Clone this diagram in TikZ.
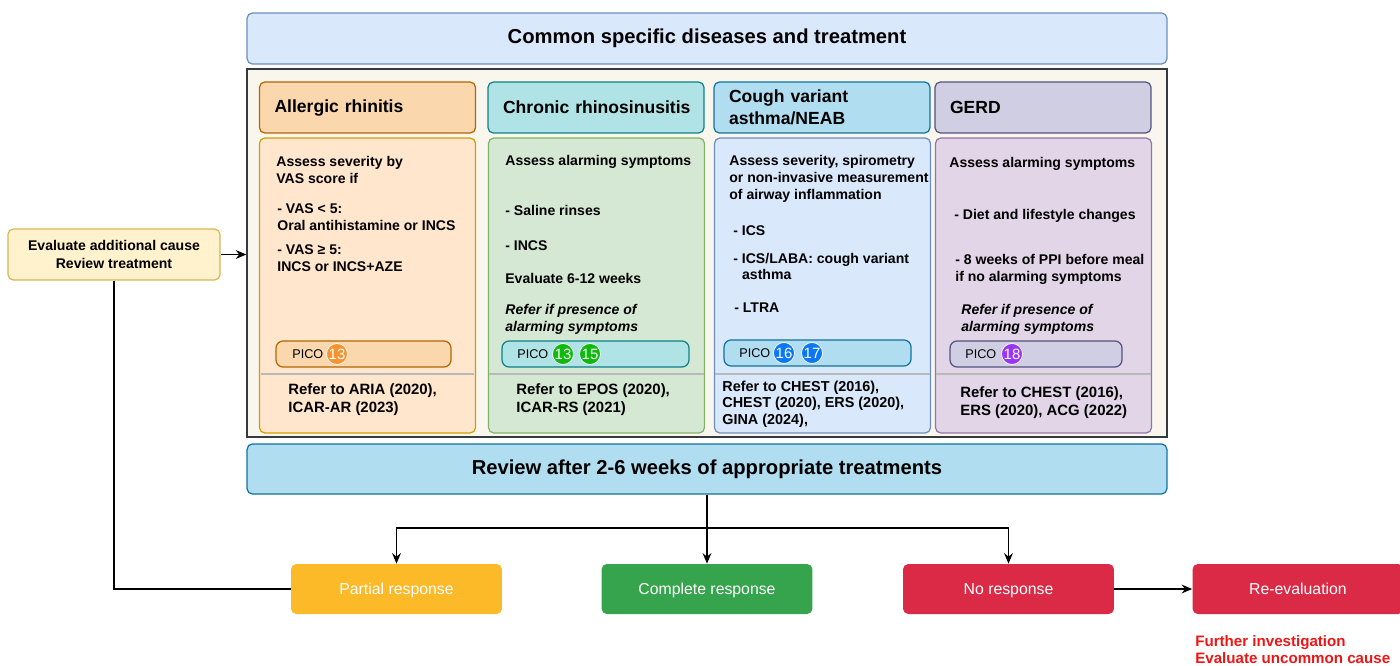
\documentclass[tikz,border=0pt]{standalone}
\usepackage{fontspec}
\setmainfont{Liberation Sans}
\usetikzlibrary{arrows.meta}
\definecolor{arhead}{HTML}{FAD7AC}
\definecolor{arheadline}{HTML}{B46504}
\definecolor{arbody}{HTML}{FFE6CC}
\definecolor{arline}{HTML}{D79B00}
\definecolor{crshead}{HTML}{B0E3E6}
\definecolor{crsheadline}{HTML}{0E8088}
\definecolor{crsbody}{HTML}{D5E8D4}
\definecolor{crsline}{HTML}{82B366}
\definecolor{cvahead}{HTML}{B1DDF0}
\definecolor{cvaheadline}{HTML}{10739E}
\definecolor{cvabody}{HTML}{DAE8FC}
\definecolor{cvaline}{HTML}{6C8EBF}
\definecolor{gerdhead}{HTML}{D0CEE2}
\definecolor{gerdheadline}{HTML}{56517E}
\definecolor{gerdbody}{HTML}{E1D5E7}
\definecolor{gerdline}{HTML}{9673A6}
\definecolor{evalfill}{HTML}{FFF2CC}
\definecolor{evalline}{HTML}{D6B656}
\definecolor{framefill}{HTML}{F9F7ED}
\definecolor{frameline}{HTML}{36393D}
\definecolor{partialfill}{HTML}{FCB928}
\definecolor{completefill}{HTML}{35A44C}
\definecolor{nofill}{HTML}{DB2A45}
\definecolor{picoorange}{HTML}{F7932F}
\definecolor{picogreen}{HTML}{0DBB0D}
\definecolor{picoblue}{HTML}{0A78F5}
\definecolor{picopurple}{HTML}{9A35F5}
\definecolor{alertred}{HTML}{F01515}
\tikzstyle{arrow} = [-{Stealth[length=6pt,width=5pt,inset=2pt]},line width=0.8pt]
\tikzstyle{link} = [line width=0.8pt]
\tikzstyle{box} = [draw,rounded corners=3pt,line width=0.7pt,inner sep=0pt]
\tikzstyle{head} = [box,minimum width=4.32cm,minimum height=1.02cm,text width=3.72cm,inner xsep=0.3cm,align=left,font=\fontsize{10}{12.5}\selectfont\bfseries]
\tikzstyle{body} = [box,minimum width=4.32cm,minimum height=5.9cm]
\tikzstyle{txt} = [anchor=west,inner sep=0pt,align=left,font=\fontsize{8}{9.6}\selectfont\bfseries]
\tikzstyle{ref} = [anchor=west,inner sep=0pt,align=left,font=\fontsize{8.5}{10.2}\selectfont\bfseries]
\tikzstyle{picobox} = [box,rounded corners=4pt,minimum width=3.5cm,minimum height=0.52cm]
\tikzstyle{picotxt} = [anchor=west,inner sep=0pt,font=\fontsize{7.2}{8}\selectfont]
\tikzstyle{pico} = [circle,draw=white,line width=0.4pt,minimum size=0.42cm,inner sep=0pt,text=white,font=\fontsize{8.5}{9}\selectfont]
\tikzstyle{resp} = [rounded corners=3pt,minimum width=4.22cm,minimum height=1cm,text height=1.6ex,text depth=0.4ex,text=white,font=\fontsize{9}{11}\selectfont]
\tikzstyle{sep} = [gray!55,line width=0.7pt]

\begin{document}
\begin{tikzpicture}[x=0.02cm,y=-0.02cm]
        \useasboundingbox (0,0) rectangle (1400,666);
        \node[box, fill=cvabody, draw=cvaline, minimum width=18.4cm, minimum height=1.02cm, font=\fontsize{11.5}{13}\selectfont\bfseries] at (707,38.5) (title) {Common specific diseases and treatment};
        \node[draw=frameline, fill=framefill, line width=0.9pt, minimum width=18.4cm, minimum height=7.36cm, inner sep=0pt] at (707,253) (frame) {};

        \node[head, fill=arhead, draw=arheadline] at (367.5,107.5) (ar) {Allergic rhinitis};
        \node[head, fill=crshead, draw=crsheadline] at (596,107.5) (crs) {\mbox{Chronic rhinosinusitis}};
        \node[head, fill=cvahead, draw=cvaheadline] at (822,107.5) (cva) {Cough variant\\asthma/NEAB};
        \node[head, fill=gerdhead, draw=gerdheadline] at (1043,107.5) (gerd) {GERD};

        \node[body, fill=arbody, draw=arline] at (367.5,285.5) (ar-body) {};
        \node[body, fill=crsbody, draw=crsline] at (596.5,285.5) (crs-body) {};
        \node[body, fill=cvabody, draw=cvaline] at (822.5,285.5) (cva-body) {};
        \node[body, fill=gerdbody, draw=gerdline] at (1043.5,285.5) (gerd-body) {};
        \draw[sep] (261,374) -- (474,374);
        \draw[sep] (489,374) -- (704,374);
        \draw[sep] (715,374) -- (930,374);
        \draw[sep] (936,374) -- (1151,374);

        \node[txt] at (276,170) (ar-t1) {Assess severity by\\VAS score if};
        \node[txt] at (277,217.5) (ar-t2) {- VAS < 5:\\Oral antihistamine or INCS};
        \node[txt] at (277,258.5) (ar-t3) {- VAS ≥ 5:\\INCS or INCS+AZE};
        \node[picobox, fill=arhead, draw=arheadline] at (363.5,354) (ar-pico) {};
        \node[picotxt] at (292,354) (ar-pico-t) {PICO};
        \node[pico, fill=picoorange] at (337,354) (ar-p13) {13};
        \node[ref] at (288,400) (ar-ref) {Refer to ARIA (2020),\\ICAR-AR (2023)};

        \node[txt] at (505,162) (crs-t1) {Assess alarming symptoms};
        \node[txt] at (505,210) (crs-t2) {- Saline rinses};
        \node[txt] at (505,246) (crs-t3) {- INCS};
        \node[txt] at (505,278) (crs-t4) {Evaluate 6-12 weeks};
        \node[txt, font=\fontsize{8}{9.6}\selectfont\bfseries\itshape] at (505,319.5) (crs-t5) {Refer if presence of\\alarming symptoms};
        \node[picobox, fill=crshead, draw=crsheadline, minimum width=3.74cm] at (595.5,354) (crs-pico) {};
        \node[picotxt] at (517,354) (crs-pico-t) {PICO};
        \node[pico, fill=picogreen] at (563,354) (crs-p13) {13};
        \node[pico, fill=picogreen] at (590,354) (crs-p15) {15};
        \node[ref] at (516,400) (crs-ref) {Refer to EPOS (2020),\\ICAR-RS (2021)};

        \node[txt] at (729,179) (cva-t1) {Assess severity, spirometry\\or non-invasive measurement\\of airway inflammation};
        \node[txt] at (733,231) (cva-t2) {- ICS};
        \node[txt] at (733,266.5) (cva-t3) {- ICS/LABA: cough variant\\\hspace*{5pt}asthma};
        \node[txt] at (734,308) (cva-t4) {- LTRA};
        \node[picobox, fill=cvahead, draw=cvaheadline, minimum width=3.74cm] at (817.5,353) (cva-pico) {};
        \node[picotxt] at (739,353) (cva-pico-t) {PICO};
        \node[pico, fill=picoblue] at (784,353) (cva-p16) {16};
        \node[pico, fill=picoblue] at (812,353) (cva-p17) {17};
        \node[ref, font=\fontsize{8.2}{9.5}\selectfont\bfseries] at (722,404) (cva-ref) {Refer to CHEST (2016),\\CHEST (2020), ERS (2020),\\GINA (2024),};

        \node[txt] at (949,164) (gerd-t1) {Assess alarming symptoms};
        \node[txt] at (954,216) (gerd-t2) {- Diet and lifestyle changes};
        \node[txt] at (955,269) (gerd-t3) {- 8 weeks of PPI before meal\\if no alarming symptoms};
        \node[txt, font=\fontsize{8}{9.6}\selectfont\bfseries\itshape] at (961,319.5) (gerd-t4) {Refer if presence of\\alarming symptoms};
        \node[picobox, fill=gerdhead, draw=gerdheadline, minimum width=3.44cm] at (1036,354) (gerd-pico) {};
        \node[picotxt] at (965,354) (gerd-pico-t) {PICO};
        \node[pico, fill=picopurple] at (1012,354) (gerd-p18) {18};
        \node[ref] at (960,402.5) (gerd-ref) {Refer to CHEST (2016),\\ERS (2020), ACG (2022)};

        \node[box, fill=cvahead, draw=cvaheadline, minimum width=18.4cm, minimum height=1cm, font=\fontsize{11.5}{13}\selectfont\bfseries] at (707,469) (review) {Review after 2-6 weeks of appropriate treatments};
        \node[box, fill=evalfill, draw=evalline, minimum width=4.24cm, minimum height=1.02cm, align=center, font=\fontsize{8}{10}\selectfont\bfseries] at (114,254.5) (evaluate) {Evaluate additional cause\\Review treatment};

        \node[resp, fill=partialfill] at (396.5,589) (partial) {Partial response};
        \node[resp, fill=completefill] at (707,589) (complete) {Complete response};
        \node[resp, fill=nofill] at (1008.5,589) (noresp) {No response};
        \node[resp, fill=nofill] at (1298,589) (reeval) {Re-evaluation};
        \node[anchor=west, inner sep=0pt, align=left, text=alertred, font=\fontsize{8.6}{9.8}\selectfont\bfseries] at (1195,649.5) (further) {Further investigation\\Evaluate uncommon cause};

        \coordinate (split) at (707,528);
        \draw[link] (review.south) -- (split);
        \draw[arrow] (split) -- (complete.north);
        \draw[arrow] (split) -| (partial.north);
        \draw[arrow] (split) -| (noresp.north);
        \draw[arrow] (noresp) -- (reeval);
        \draw[link] (partial.west) -| (evaluate.south);
        \draw[arrow] (evaluate.east) -- (evaluate.east -| frame.west);

      \end{tikzpicture}
\end{document}
